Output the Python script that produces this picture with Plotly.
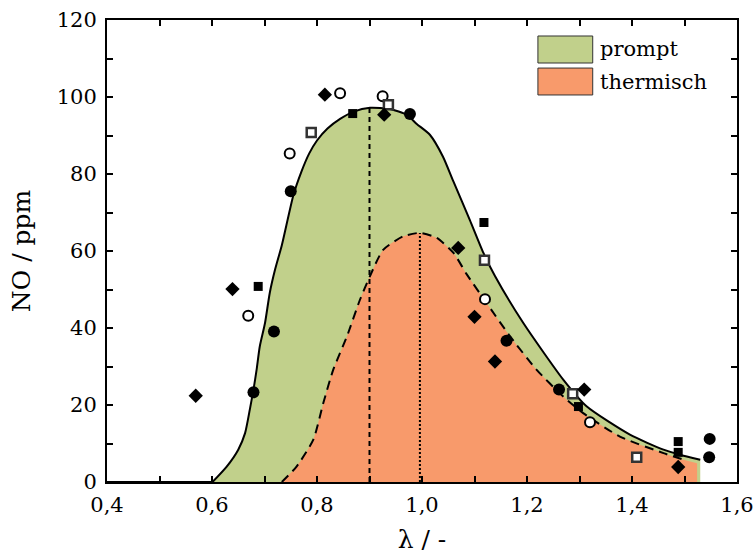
import plotly.graph_objects as go

# ---- data ----
base_x = [0.40, 0.601]
base_y = [0.0, 0.0]

prompt_x = [0.601, 0.628, 0.650, 0.663, 0.672, 0.679, 0.685, 0.691, 0.701, 0.710, 0.720,
            0.733, 0.755, 0.770, 0.785, 0.800, 0.820, 0.844, 0.870, 0.901, 0.939, 0.971,
            0.990, 1.015, 1.040, 1.060, 1.091, 1.117, 1.139, 1.193, 1.269, 1.314, 1.396,
            1.460, 1.491, 1.530]
prompt_y = [0.0, 4.0, 8.4, 12.7, 18.8, 24.0, 29.2, 35.2, 41.3, 49.1, 55.1,
            61.5, 74.5, 80.5, 85.3, 88.7, 91.8, 94.3, 96.2, 97.2, 96.9, 95.4,
            93.0, 90.2, 84.5, 78.0, 68.1, 59.5, 53.5, 41.3, 26.6, 19.6, 12.3,
            8.4, 7.1, 5.8]

therm_x = [0.733, 0.761, 0.793, 0.812, 0.831, 0.857, 0.882, 0.901, 0.926, 0.964, 0.996,
           1.028, 1.060, 1.085, 1.123, 1.168, 1.218, 1.269, 1.307, 1.377, 1.460, 1.498, 1.524]
therm_y = [0.0, 4.0, 11.0, 20.5, 29.2, 37.8, 47.4, 53.5, 60.3, 63.8, 64.7,
           63.4, 59.5, 54.0, 46.5, 37.8, 29.2, 22.2, 17.9, 11.8, 7.5, 5.8, 4.9]

prompt_peak_x, prompt_peak_y = 0.900, 97.2
therm_peak_x, therm_peak_y = 0.996, 64.7

circ_f_x = [0.679, 0.718, 0.750, 0.977, 1.161, 1.261, 1.548, 1.547]
circ_f_y = [23.3, 39.1, 75.5, 95.6, 36.7, 24.0, 11.2, 6.4]

circ_o_x = [0.669, 0.748, 0.844, 0.925, 1.120, 1.320]
circ_o_y = [43.2, 85.3, 101.0, 100.2, 47.5, 15.5]

sq_f_x = [0.688, 0.868, 1.118, 1.298, 1.488, 1.488]
sq_f_y = [50.8, 95.7, 67.4, 19.6, 10.5, 7.7]

sq_o_x = [0.789, 0.936, 1.119, 1.287, 1.409]
sq_o_y = [90.8, 98.0, 57.6, 22.9, 6.4]

dia_x = [0.569, 0.639, 0.815, 0.928, 1.069, 1.100, 1.139, 1.309, 1.488]
dia_y = [22.4, 50.1, 100.6, 95.4, 60.8, 42.9, 31.3, 24.0, 3.9]

legend_labels = ["prompt", "thermisch"]
GREEN = "#c1d08b"
ORANGE = "#f89a6b"
FONT = "DejaVu Serif"
SMOOTH = 0.6

fig = go.Figure()

# fills
fig.add_trace(go.Scatter(x=prompt_x, y=prompt_y, mode="lines", fill="tozeroy",
                         fillcolor=GREEN, line=dict(width=0, shape="spline", smoothing=SMOOTH),
                         showlegend=False, hoverinfo="skip"))
fig.add_trace(go.Scatter(x=therm_x, y=therm_y, mode="lines", fill="tozeroy",
                         fillcolor=ORANGE, line=dict(width=0, shape="spline", smoothing=SMOOTH),
                         showlegend=False, hoverinfo="skip"))

# vertical peak lines
fig.add_trace(go.Scatter(x=[prompt_peak_x, prompt_peak_x], y=[0, prompt_peak_y], mode="lines",
                         line=dict(color="black", width=2, dash="5px,4px"), showlegend=False))
fig.add_trace(go.Scatter(x=[therm_peak_x, therm_peak_x], y=[0, therm_peak_y], mode="lines",
                         line=dict(color="black", width=2, dash="2px,2px"), showlegend=False))

# curve lines
fig.add_trace(go.Scatter(x=base_x, y=base_y, mode="lines",
                         line=dict(color="black", width=2), showlegend=False))
fig.add_trace(go.Scatter(x=prompt_x, y=prompt_y, mode="lines",
                         line=dict(color="black", width=2, shape="spline", smoothing=SMOOTH),
                         showlegend=False))
fig.add_trace(go.Scatter(x=therm_x[:-1], y=therm_y[:-1], mode="lines",
                         line=dict(color="black", width=2, dash="9px,6px", shape="spline",
                                   smoothing=SMOOTH),
                         showlegend=False))

# markers
fig.add_trace(go.Scatter(x=circ_f_x, y=circ_f_y, mode="markers",
                         marker=dict(symbol="circle", size=12, color="black"), showlegend=False))
fig.add_trace(go.Scatter(x=circ_o_x, y=circ_o_y, mode="markers",
                         marker=dict(symbol="circle", size=10, color="white",
                                     line=dict(color="black", width=2)), showlegend=False))
fig.add_trace(go.Scatter(x=sq_f_x, y=sq_f_y, mode="markers",
                         marker=dict(symbol="square", size=9, color="black"), showlegend=False))
fig.add_trace(go.Scatter(x=sq_o_x, y=sq_o_y, mode="markers",
                         marker=dict(symbol="square", size=9, color="white",
                                     line=dict(color="#333333", width=2.5)), showlegend=False))
fig.add_trace(go.Scatter(x=dia_x, y=dia_y, mode="markers",
                         marker=dict(symbol="diamond", size=11, color="black"), showlegend=False))

# manual legend
box_x0, box_x1 = 0.684, 0.771
rows = [(0.9654, 0.9069, GREEN), (0.896, 0.8377, ORANGE)]
for (y1, y0, col), lab in zip(rows, legend_labels):
    fig.add_shape(type="rect", xref="paper", yref="paper", x0=box_x0, x1=box_x1, y0=y0, y1=y1,
                  fillcolor=col, line=dict(color="#333333", width=1))
    fig.add_annotation(xref="paper", yref="paper", x=0.780, y=(y0 + y1) / 2, text=lab,
                       showarrow=False, xanchor="left", yanchor="middle",
                       font=dict(family=FONT, size=21, color="black"))

axis_common = dict(showline=True, linecolor="black", linewidth=2, mirror="allticks",
                   ticks="inside", ticklen=6, tickwidth=2, tickcolor="black",
                   showgrid=False, zeroline=False, automargin=False,
                   tickfont=dict(family=FONT, size=21, color="black"))

fig.update_xaxes(range=[0.4, 1.6], tickvals=[0.4, 0.6, 0.8, 1.0, 1.2, 1.4, 1.6],
                 ticktext=["0,4", "0,6", "0,8", "1,0", "1,2", "1,4", "1,6"],
                 ticklabelstandoff=3,
                 minor=dict(ticks="inside", ticklen=6, tickwidth=2, tickcolor="black", dtick=0.1,
                            tick0=0.4, showgrid=False),
                 title=dict(text="λ / -", font=dict(family=FONT, size=25, color="black"), standoff=14),
                 **axis_common)
fig.update_yaxes(range=[0, 120], dtick=20, ticklabelstandoff=4,
                 minor=dict(ticks="inside", ticklen=6, tickwidth=2, tickcolor="black", dtick=10,
                            showgrid=False),
                 title=dict(text="NO / ppm", font=dict(family=FONT, size=25, color="black"), standoff=19),
                 **axis_common)

fig.update_layout(width=755, height=558, margin=dict(l=107, r=18, t=20, b=76),
                  plot_bgcolor="white", paper_bgcolor="white", separators=", ")

fig.write_html("out.html")
